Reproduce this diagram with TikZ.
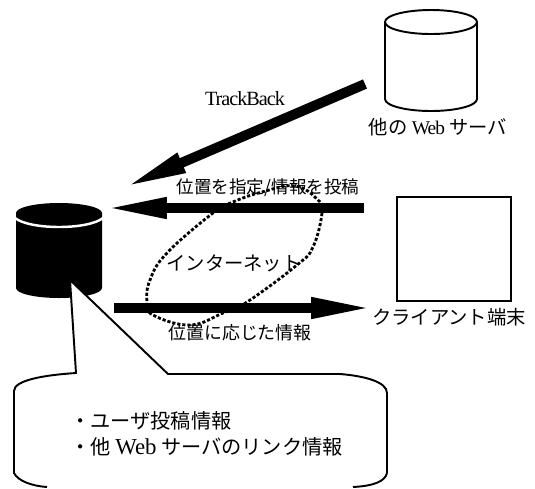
\documentclass[tikz,border=0pt]{standalone}
\usepackage{fontspec}
\setmainfont{Liberation Serif}
\newfontfamily\cjk{Noto Sans CJK JP}
\newfontfamily\tightrm[LetterSpace=-5]{Liberation Serif}
\usetikzlibrary{arrows.meta}
\tikzset{
  label/.style={inner sep=0pt, font=\fontsize{11pt}{14pt}\selectfont\cjk},
  outline/.style={line width=1.1pt},
  placeholder/.style={inner sep=0pt, minimum width=#1},
  bigarrow/.style={line width=0.2cm, -{Triangle[length=1.28cm,width=0.38cm]}},
}
\begin{document}
\begin{tikzpicture}[x=0.02cm, y=-0.02cm]
        \useasboundingbox (0,0) rectangle (535,488);

        % servers and client
        \node[placeholder=1.84cm, minimum height=2.06cm] (websrv) at (431,60.5) {};
        \draw[outline] (385,22) arc[x radius=46, y radius=12, start angle=180, end angle=-180]
            -- (385,99) arc[x radius=46, y radius=12, start angle=180, end angle=0] -- (477,22);
        \node[placeholder=1.72cm, minimum height=1.9cm] (blogsrv) at (59,250.5) {};
        \fill (16,213) arc[x radius=43, y radius=10, start angle=180, end angle=-180]
            -- (16,288) arc[x radius=43, y radius=10, start angle=180, end angle=0] -- (102,213) -- cycle;
        \draw[white, line width=1.4pt] (15,218) .. controls (30,230) and (88,230) .. (103,218);
        \node[draw, line width=1.2pt, minimum width=2.28cm, minimum height=2.08cm, inner sep=0pt] (client) at (454,249) {};

        % callout over the black server
        \draw[outline, fill=white] (47,487) .. controls (32,486) and (18,481) .. (14,473)
            -- (14,391) .. controls (14,380) and (45,375) .. (76,373)
            -- (70,280) -- (168,374) -- (340,374) .. controls (365,376) and (387,382) .. (387,393)
            -- (387,473) .. controls (385,482) and (372,486) .. (353,487);

        % labels
        \node[label, font=\fontsize{11.5pt}{14pt}\tightrm] (tb) at (245,99) {TrackBack};
        \node[label] (webname) at (438,127) {他の {\tightrm Web} サーバ};
        \node[label, font=\fontsize{10pt}{14pt}\selectfont\cjk] (post) at (268,188) {位置を指定/情報を投稿};
        \node[label] (net) at (234,263) {インターネット};
        \node[label, font=\fontsize{10.2pt}{14pt}\selectfont\cjk] (info) at (240,333) {位置に応じた情報};
        \node[label] (clname) at (449,317) {クライアント端末};
        \node[label, font=\fontsize{11.5pt}{14pt}\selectfont\cjk, anchor=west] (item1) at (70,421) {・ユーザ投稿情報};
        \node[label, font=\fontsize{11.5pt}{14pt}\selectfont\cjk, anchor=west] (item2) at (70,447) {・他 {\fontsize{13pt}{14pt}\rmfamily Web} サーバのリンク情報};

        % internet outline
        \draw[line width=1.6pt, dash pattern=on 1.8pt off 1.1pt] plot[smooth cycle, tension=0.7] coordinates
            {(318,200) (322,213) (313,247) (297,265) (247,302) (223,313) (190,325) (153,315)
             (147,302) (150,280) (167,253) (213,213) (233,202) (262,192) (295,186)};

        % arrows
        \coordinate (tbstart) at (365,84);
        \coordinate (tbend) at (123,188);
        \coordinate (poststart) at (364,208);
        \coordinate (postend) at (103,208);
        \coordinate (infostart) at (114,308);
        \coordinate (infoend) at (375,308);
        \draw[bigarrow] (tbstart) -- (tbend);
        \draw[bigarrow] (poststart) -- (postend);
        \draw[bigarrow] (infostart) -- (infoend);
\end{tikzpicture}
\end{document}
